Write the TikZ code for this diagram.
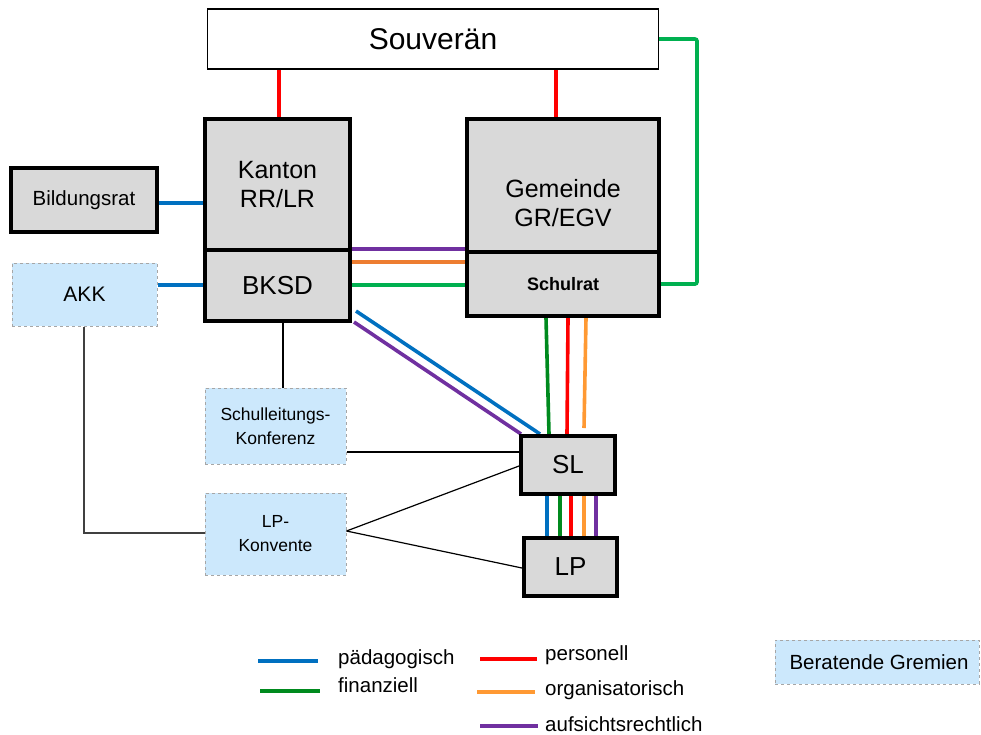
\documentclass[tikz,border=0pt]{standalone}
\usepackage{fontspec}
\setmainfont{Liberation Sans}
\usetikzlibrary{backgrounds,calc}
\definecolor{boxgray}{HTML}{D9D9D9}
\definecolor{advfill}{HTML}{CCE8FC}
\definecolor{advline}{HTML}{A6A6A6}
\definecolor{cblue}{HTML}{0070C0}
\definecolor{cgreen}{HTML}{00B050}
\definecolor{cdkgreen}{HTML}{008A1E}
\definecolor{cred}{HTML}{FF0000}
\definecolor{corange}{HTML}{FF9933}
\definecolor{cdkorange}{HTML}{ED7D31}
\definecolor{cpurple}{HTML}{7030A0}
\newcommand{\fs}[2]{\fontsize{#1}{#2}\selectfont}
\tikzset{
  mainbox/.style={draw=black, line width=4pt, fill=boxgray, rectangle,
    inner sep=0pt, align=center},
  advbox/.style={draw=advline, dashed, line width=1pt, fill=advfill, rectangle,
    inner sep=0pt, align=center},
  rel/.style={line width=3.6pt},
  thin/.style={line width=1.2pt, draw=black},
  legtext/.style={anchor=west, inner sep=0pt, font=\fs{20.5}{24}}
}
\begin{document}
\begin{tikzpicture}[x=1pt, y=-1pt]
\useasboundingbox (0,0) rectangle (981,734);

% top level
\node[draw=black, line width=1.3pt, fill=white, minimum width=451pt, minimum height=60pt,
  inner sep=0pt, font=\fs{30}{34}] (souv) at (433,39) {Souverän};

% canton
\node[mainbox, minimum width=145pt, minimum height=131pt, font=\fs{25}{29}] (kanton) at (277.5,184.5)
  {Kanton\\RR/LR};
\node[mainbox, minimum width=145pt, minimum height=71pt, font=\fs{26}{30}] (bksd) at (277.5,285.5) {BKSD};

% municipality
\node[mainbox, minimum width=192pt, minimum height=133pt] (gemeinde) at (563,185.5) {};
\node[font=\fs{25}{29}, align=center, inner sep=0pt] (gemtext) at (563,203) {Gemeinde\\GR/EGV};
\node[mainbox, minimum width=192pt, minimum height=64pt, font=\bfseries\fs{18}{22}] (schulrat) at (563,284) {Schulrat};

% other bodies
\node[mainbox, minimum width=146pt, minimum height=64pt, font=\fs{20.5}{24}] (bildung) at (84,200) {Bildungsrat};
\node[advbox, minimum width=145pt, minimum height=63pt, font=\fs{21}{25}] (akk) at (84.5,294.5) {AKK};
\node[advbox, minimum width=141pt, minimum height=76pt, font=\fs{17.5}{24}] (slk) at (275.5,426)
  {Schulleitungs-\\Konferenz};
\node[advbox, minimum width=141pt, minimum height=82pt, font=\fs{17.5}{24}] (lpk) at (275.5,534)
  {LP-\\Konvente};
\node[mainbox, minimum width=94pt, minimum height=58pt, font=\fs{26}{30}] (sl) at (568,465) {SL};
\node[mainbox, minimum width=93pt, minimum height=58pt, font=\fs{26}{30}] (lp) at (570.5,567) {LP};
\node[advbox, minimum width=204pt, minimum height=44pt, font=\fs{20.5}{24}] (berat) at (877,662) {\hspace*{4pt}Beratende Gremien};

\begin{scope}[on background layer]
  % Souverän links
  \draw[rel, cred] (souv.south -| 279,0) -- (kanton.north -| 279,0);
  \draw[rel, cred] (souv.south -| 556,0) -- (gemeinde.north -| 556,0);
  \coordinate (loop) at (697,0);
  \draw[rel, cgreen, rounded corners=2pt] (souv.east) -- (souv.east -| loop)
    -- (schulrat.east -| loop) -- (schulrat.east);

  % canton links
  \draw[rel, cblue] (bildung.east |- 0,203) -- (kanton.west |- 0,203);
  \draw[rel, cblue] (akk.east |- 0,285) -- (bksd.west |- 0,285);
  \draw[rel, cpurple] (kanton.east |- 0,249) -- (gemeinde.west |- 0,249);
  \draw[rel, cdkorange] (bksd.east |- 0,262) -- (schulrat.west |- 0,262);
  \draw[rel, cgreen] (bksd.east |- 0,285) -- (schulrat.west |- 0,285);

  % BKSD to school management
  \draw[rel, cblue] ($(bksd.south east)+(4,-12)$) -- ($(sl.north west)+(21,0)$);
  \draw[rel, cpurple] ($(bksd.south east)+(2,-1)$) -- ($(sl.north west)+(2,0)$);

  % Schulrat to school management
  \draw[rel, cdkgreen] (schulrat.south -| 546,0) -- (sl.north -| 549,0);
  \draw[rel, cred] (schulrat.south -| 568,0) -- (sl.north -| 567,0);
  \draw[rel, corange] (schulrat.south -| 586,0) -- ($(sl.north -| 584,0)+(0,-6)$);

  % school management to teachers
  \draw[rel, cblue] (sl.south -| 547,0) -- (lp.north -| 547,0);
  \draw[rel, cdkgreen] (sl.south -| 560,0) -- (lp.north -| 560,0);
  \draw[rel, cred] (sl.south -| 571,0) -- (lp.north -| 571,0);
  \draw[rel, corange] (sl.south -| 584,0) -- (lp.north -| 584,0);
  \draw[rel, cpurple] (sl.south -| 596,0) -- (lp.north -| 596,0);

  % advisory links
  \draw[thin] (bksd.south -| 283,0) -- (slk.north -| 283,0);
  \draw[thin] (slk.east |- 0,452) -- (sl.west |- 0,452);
  \draw[thin, draw=black!75] (akk.south -| 84,0) |- (lpk.west |- 0,533);
  \draw[thin] (lpk.east |- 0,531) -- (sl.west |- 0,466);
  \draw[thin] (lpk.east |- 0,531) -- (lp.west |- 0,568);
\end{scope}

% legend
\coordinate (lb1) at (258,661); \coordinate (lb2) at (318,661);
\coordinate (lg1) at (260,691); \coordinate (lg2) at (320,691);
\coordinate (lr1) at (480,659); \coordinate (lr2) at (537,659);
\coordinate (lo1) at (477,692); \coordinate (lo2) at (535,692);
\coordinate (lv1) at (480,726); \coordinate (lv2) at (538,726);
\draw[rel, cblue] (lb1) -- (lb2);
\draw[rel, cdkgreen] (lg1) -- (lg2);
\draw[rel, cred] (lr1) -- (lr2);
\draw[rel, corange] (lo1) -- (lo2);
\draw[rel, cpurple] (lv1) -- (lv2);
\node[legtext] (tpaed) at (338,659) {pädagogisch};
\node[legtext] (tfin) at (338,685) {finanziell};
\node[legtext] (tpers) at (545,655) {personell};
\node[legtext] (torg) at (545,690) {organisatorisch};
\node[legtext] (taufs) at (545,724) {aufsichtsrechtlich};
\end{tikzpicture}
\end{document}
